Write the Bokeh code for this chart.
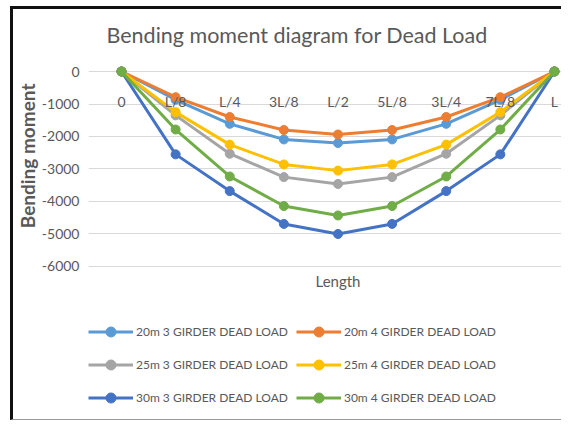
from bokeh.plotting import figure
from bokeh.models import Range1d, FixedTicker, Legend, LegendItem, Title, Label
from bokeh.embed import file_html
from bokeh.resources import INLINE

positions = ["0", "L/8", "L/4", "3L/8", "L/2", "5L/8", "3L/4", "7L/8", "L"]
y_ticks = [0, -1000, -2000, -3000, -4000, -5000, -6000]

s20_3 = [0, -870, -1610, -2090, -2200, -2090, -1610, -870, 0]
s20_4 = [0, -790, -1400, -1800, -1940, -1800, -1400, -790, 0]
s25_3 = [0, -1350, -2530, -3250, -3460, -3250, -2530, -1350, 0]
s25_4 = [0, -1250, -2250, -2860, -3050, -2860, -2250, -1250, 0]
s30_3 = [0, -2550, -3680, -4690, -5000, -4690, -3680, -2550, 0]
s30_4 = [0, -1785, -3230, -4140, -4430, -4140, -3230, -1785, 0]

series = [
    ("20m 3 GIRDER DEAD LOAD", s20_3, "#5B9BD5"),
    ("20m 4 GIRDER DEAD LOAD", s20_4, "#ED7D31"),
    ("25m 3 GIRDER DEAD LOAD", s25_3, "#A5A5A5"),
    ("25m 4 GIRDER DEAD LOAD", s25_4, "#FFC000"),
    ("30m 3 GIRDER DEAD LOAD", s30_3, "#4472C4"),
    ("30m 4 GIRDER DEAD LOAD", s30_4, "#70AD47"),
]

x_idx = list(range(len(positions)))
FONT = "Lato"
GRAY = "#595959"

# frame extends below the value axis to host the axis title and legend
p = figure(frame_width=473, frame_height=357,
           x_range=Range1d(-0.61, 8.13), y_range=Range1d(-10708, 277),
           output_backend="svg", toolbar_location=None,
           min_border_left=70, min_border_right=0, min_border_top=53,
           min_border_bottom=0, margin=(6, 0, 0, 10),
           title="Bending moment diagram for Dead Load")
p.styles = {"border-top": "3px solid #111111", "border-left": "3px solid #111111",
            "border-bottom": "1px solid #999999"}
p.outline_line_color = None
p.background_fill_color = "white"
p.border_fill_color = "white"

p.title.text_font = FONT
p.title.text_font_size = "21.5px"
p.title.text_font_style = "normal"
p.title.text_color = GRAY
p.title.align = "left"
p.title.offset = 18
p.title.standoff = 25
p.title.vertical_align = "top"

xa = p.xaxis[0]
xa.ticker = FixedTicker(ticks=x_idx)
xa.major_label_overrides = {i: lab for i, lab in enumerate(positions)}
xa.fixed_location = 0
xa.axis_line_color = None
xa.major_tick_line_color = None
xa.minor_tick_line_color = None
xa.major_tick_out = 0
xa.major_tick_in = 0
xa.major_label_standoff = 21
xa.major_label_text_font = FONT
xa.major_label_text_font_size = "14px"
xa.major_label_text_color = GRAY

ya = p.yaxis[0]
ya.ticker = FixedTicker(ticks=y_ticks)
ya.major_label_overrides = {t: str(t) for t in y_ticks}
ya.axis_line_color = None
ya.major_tick_line_color = None
ya.minor_tick_line_color = None
ya.major_tick_out = 0
ya.major_tick_in = 0
ya.major_label_standoff = 9
ya.major_label_text_font = FONT
ya.major_label_text_font_size = "14px"
ya.major_label_text_color = GRAY

p.add_layout(Title(text="Bending moment", align="right", offset=21, standoff=0,
                   text_font=FONT, text_font_size="19px",
                   text_font_style="bold", text_color=GRAY), "left")

p.xgrid.visible = False
p.ygrid.grid_line_color = "#D9D9D9"
p.ygrid.grid_line_width = 1

p.add_layout(Label(x=x_idx[len(x_idx) // 2], y=-6460, text="Length",
                   text_align="center", text_baseline="middle",
                   text_font=FONT, text_font_size="15px",
                   text_color=GRAY))

items = []
for label, vals, color in series:
    r1 = p.line(x_idx, vals, line_color=color, line_width=3)
    r2 = p.scatter(x_idx, vals, size=9, fill_color=color, line_color=color)
    items.append(LegendItem(label=label, renderers=[r1, r2]))

legend = Legend(items=items, location=(0, 9), orientation="horizontal",
                ncols=2, glyph_width=45, glyph_height=25, label_height=25,
                label_standoff=3, spacing=8, padding=0, margin=0,
                label_text_font=FONT, label_text_font_size="12px",
                label_text_color=GRAY, border_line_color=None,
                background_fill_alpha=0)
p.add_layout(legend, "center")

open("out.html", "w").write(file_html(p, INLINE))
